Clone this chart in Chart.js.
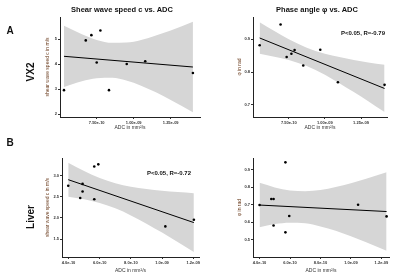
<!DOCTYPE html>
<html><head><meta charset="utf-8">
<script src="https://cdn.jsdelivr.net/npm/chart.js@4/dist/chart.umd.min.js"></script>
<style>
html,body{margin:0;padding:0;background:#fff;}
#wrap{position:relative;width:400px;height:276px;overflow:hidden;font-family:"Liberation Sans",Arial,sans-serif;background:#fff;}
canvas{position:absolute;left:0;top:0;}
.t{position:absolute;transform:translate(-50%,-50%);white-space:nowrap;color:#111;line-height:1;}
.r{transform:translate(-50%,-50%) rotate(-90deg);}
</style></head><body>
<div id="wrap">
<canvas id="c1" width="400" height="276"></canvas>
<canvas id="c2" width="400" height="276"></canvas>
<canvas id="c3" width="400" height="276"></canvas>
<canvas id="c4" width="400" height="276"></canvas>
<div class="t" style="left:10px;top:31px;font-weight:bold;font-size:10px">A</div>
<div class="t" style="left:10px;top:143px;font-weight:bold;font-size:10px">B</div>
<div class="t r" style="left:31px;top:72px;font-weight:bold;font-size:10px">VX2</div>
<div class="t r" style="left:31px;top:217px;font-weight:bold;font-size:10px">Liver</div>
<div class="t" style="left:122px;top:10px;font-weight:bold;font-size:7.5px">Shear wave speed c vs. ADC</div>
<div class="t" style="left:317px;top:10px;font-weight:bold;font-size:7.5px">Phase angle φ vs. ADC</div>
<div class="t" style="left:363px;top:32.5px;font-weight:bold;font-size:6px">P&lt;0.05, R=-0.79</div>
<div class="t" style="left:169px;top:173px;font-weight:bold;font-size:6px">P&lt;0.05, R=-0.72</div>
</div>
<script>
// ---------- data ----------
// VX2 : shear wave speed
const adcA_c = [5.29e-10, 6.76e-10, 7.14e-10, 7.50e-10, 7.75e-10, 8.33e-10, 9.53e-10, 1.078e-9, 1.400e-9];
const speedA = [2.96, 4.96, 5.17, 4.07, 5.36, 2.96, 4.01, 4.12, 3.65];
const fitA_cX = [5.29e-10, 1.400e-9];
const fitA_cY = [4.32, 3.89];
const bandA_cX = [5.29e-10, 6.5e-10, 7.5e-10, 8.56e-10, 9.5e-10, 1.05e-9, 1.15e-9, 1.25e-9, 1.400e-9];
const bandA_cHi = [5.55, 5.21, 4.98, 4.86, 4.87, 4.98, 5.16, 5.36, 5.71];
const bandA_cLo = [3.09, 3.32, 3.44, 3.46, 3.35, 3.14, 2.87, 2.56, 2.07];
// VX2 : phase angle
const adcA_p = [5.48e-10, 6.93e-10, 7.35e-10, 7.68e-10, 7.90e-10, 8.50e-10, 9.68e-10, 1.090e-9, 1.413e-9];
const phiA = [0.882, 0.945, 0.846, 0.856, 0.867, 0.820, 0.868, 0.769, 0.761];
const fitA_pX = [5.48e-10, 1.413e-9];
const fitA_pY = [0.904, 0.750];
const bandA_pX = [5.48e-10, 6.5e-10, 7.5e-10, 8.7e-10, 1.0e-9, 1.1e-9, 1.2e-9, 1.3e-9, 1.413e-9];
const bandA_pHi = [0.952, 0.925, 0.900, 0.875, 0.856, 0.846, 0.837, 0.829, 0.822];
const bandA_pLo = [0.856, 0.847, 0.837, 0.819, 0.792, 0.766, 0.739, 0.711, 0.678];
// Liver : shear wave speed
const adcB_c = [3.98e-10, 4.75e-10, 4.90e-10, 4.90e-10, 5.65e-10, 5.65e-10, 5.91e-10, 1.021e-9, 1.204e-9];
const speedB = [2.757, 2.47, 2.80, 2.62, 3.21, 2.44, 3.26, 1.80, 1.955];
const fitB_cX = [3.98e-10, 1.204e-9];
const fitB_cY = [2.90, 1.89];
const bandB_cX = [3.98e-10, 5e-10, 6e-10, 7e-10, 8e-10, 9e-10, 1.0e-9, 1.1e-9, 1.204e-9];
const bandB_cHi = [3.30, 3.104, 2.941, 2.817, 2.734, 2.678, 2.638, 2.607, 2.58];
const bandB_cLo = [2.50, 2.44, 2.353, 2.225, 2.058, 1.864, 1.654, 1.433, 1.20];
// Liver : phase angle
const adcB_p = [4.00e-10, 4.77e-10, 4.92e-10, 4.92e-10, 5.70e-10, 5.70e-10, 5.95e-10, 1.047e-9, 1.234e-9];
const phiB = [0.698, 0.733, 0.733, 0.581, 0.942, 0.542, 0.635, 0.70, 0.633];
const fitB_pX = [4.00e-10, 1.234e-9];
const fitB_pY = [0.698, 0.661];
const bandB_pX = [4.0e-10, 5e-10, 6e-10, 7e-10, 8e-10, 9e-10, 1.0e-9, 1.1e-9, 1.234e-9];
const bandB_pHi = [0.825, 0.799, 0.781, 0.777, 0.784, 0.801, 0.823, 0.849, 0.885];
const bandB_pLo = [0.571, 0.589, 0.597, 0.594, 0.576, 0.551, 0.519, 0.485, 0.437];
// ticks
const xTicksA = [7.5e-10, 1.0e-9, 1.25e-9];
const xLabelsA = ["7.50e-10", "1.00e-09", "1.25e-09"];
const xTicksB = [4e-10, 6e-10, 8e-10, 1.0e-9, 1.2e-9];
const xLabelsB = ["4.0e-10", "6.0e-10", "8.0e-10", "1.0e-09", "1.2e-09"];
const yTicksA_c = [2, 3, 4, 5];
const yLabelsA_c = ["2", "3", "4", "5"];
const yTicksA_p = [0.7, 0.8, 0.9];
const yLabelsA_p = ["0.7", "0.8", "0.9"];
const yTicksB_c = [1.5, 2.0, 2.5, 3.0];
const yLabelsB_c = ["1.5", "2.0", "2.5", "3.0"];
const yTicksB_p = [0.5, 0.6, 0.7, 0.8, 0.9];
const yLabelsB_p = ["0.5", "0.6", "0.7", "0.8", "0.9"];
const xTitle = "ADC in mm²/s";
const yTitleC = "shear wave speed c in m/s";
const yTitleP = "φ in rad";

// ---------- drawing ----------
const pts = (xs, ys) => xs.map((x, i) => ({x: x, y: ys[i]}));
const TICK = '#333';
function panel(id, o) {
  const W = o.L - o.titleX + 3;   // y-scale width so the title centre lands at titleX
  new Chart(document.getElementById(id), {
    type: 'line',
    data: {datasets: [
      {data: pts(o.px, o.py), showLine: false, pointRadius: 1.3, pointBackgroundColor: '#000', pointBorderWidth: 0},
      {data: pts(o.fx, o.fy), borderColor: '#000', borderWidth: 1, pointRadius: 0, fill: false},
      {data: pts(o.bx, o.bhi), borderColor: 'rgba(0,0,0,0)', borderWidth: 0, pointRadius: 0, fill: '+1', backgroundColor: '#d6d6d6', cubicInterpolationMode: 'monotone'},
      {data: pts(o.bx, o.blo), borderColor: 'rgba(0,0,0,0)', borderWidth: 0, pointRadius: 0, fill: false, cubicInterpolationMode: 'monotone'}
    ]},
    options: {
      responsive: false, animation: false, devicePixelRatio: 1,
      layout: {padding: {left: o.L - W, right: 400 - o.R, top: o.T, bottom: 276 - o.B - o.xH}},
      plugins: {legend: {display: false}, tooltip: {enabled: false}},
      scales: {
        x: {
          type: 'linear', min: o.xmin, max: o.xmax,
          afterFit: s => { s.height = o.xH; },
          afterBuildTicks: s => { s.ticks = o.xt.map(v => ({value: v})); },
          ticks: {autoSkip: false, maxRotation: 0, padding: 1, color: TICK, font: {size: 4, weight: 'bold', family: 'Liberation Sans'}, callback: (v, i) => o.xl[i]},
          grid: {drawOnChartArea: false, tickLength: 2, color: TICK},
          border: {color: '#222', width: 1},
          title: {display: true, text: xTitle, padding: 0, color: '#333', font: {size: 5, family: 'Liberation Sans'}}
        },
        y: {
          type: 'linear', min: o.ymin, max: o.ymax,
          afterFit: s => { s.width = W; },
          afterBuildTicks: s => { s.ticks = o.yt.map(v => ({value: v})); },
          ticks: {autoSkip: false, padding: 1, color: TICK, font: {size: 4, weight: 'bold', family: 'Liberation Sans'}, callback: (v, i) => o.yl[i]},
          grid: {drawOnChartArea: false, tickLength: 2, color: TICK},
          border: {color: '#222', width: 1},
          title: {display: true, text: o.yTitle, padding: 0, color: '#6b3d1f', font: {size: 5, family: 'Liberation Sans'}}
        }
      }
    }
  });
}
panel('c1', {L: 60, R: 200, T: 17, B: 117, xH: 13.7, titleX: 47.3,
  xmin: 5.02e-10, xmax: 1.448e-9, ymin: 1.88, ymax: 5.9,
  px: adcA_c, py: speedA, fx: fitA_cX, fy: fitA_cY, bx: bandA_cX, bhi: bandA_cHi, blo: bandA_cLo,
  xt: xTicksA, xl: xLabelsA, yt: yTicksA_c, yl: yLabelsA_c, yTitle: yTitleC});
panel('c2', {L: 253, R: 387, T: 17, B: 117, xH: 13.7, titleX: 240,
  xmin: 5.02e-10, xmax: 1.43e-9, ymin: 0.663, ymax: 0.968,
  px: adcA_p, py: phiA, fx: fitA_pX, fy: fitA_pY, bx: bandA_pX, bhi: bandA_pHi, blo: bandA_pLo,
  xt: xTicksA, xl: xLabelsA, yt: yTicksA_p, yl: yLabelsA_p, yTitle: yTitleP});
panel('c3', {L: 62, R: 199, T: 158, B: 257, xH: 16.7, titleX: 47.3,
  xmin: 3.58e-10, xmax: 1.237e-9, ymin: 1.08, ymax: 3.41,
  px: adcB_c, py: speedB, fx: fitB_cX, fy: fitB_cY, bx: bandB_cX, bhi: bandB_cHi, blo: bandB_cLo,
  xt: xTicksB, xl: xLabelsB, yt: yTicksB_c, yl: yLabelsB_c, yTitle: yTitleC});
panel('c4', {L: 253, R: 389, T: 158, B: 257, xH: 16.7, titleX: 240,
  xmin: 3.57e-10, xmax: 1.25e-9, ymin: 0.401, ymax: 0.967,
  px: adcB_p, py: phiB, fx: fitB_pX, fy: fitB_pY, bx: bandB_pX, bhi: bandB_pHi, blo: bandB_pLo,
  xt: xTicksB, xl: xLabelsB, yt: yTicksB_p, yl: yLabelsB_p, yTitle: yTitleP});
</script>
</body></html>
